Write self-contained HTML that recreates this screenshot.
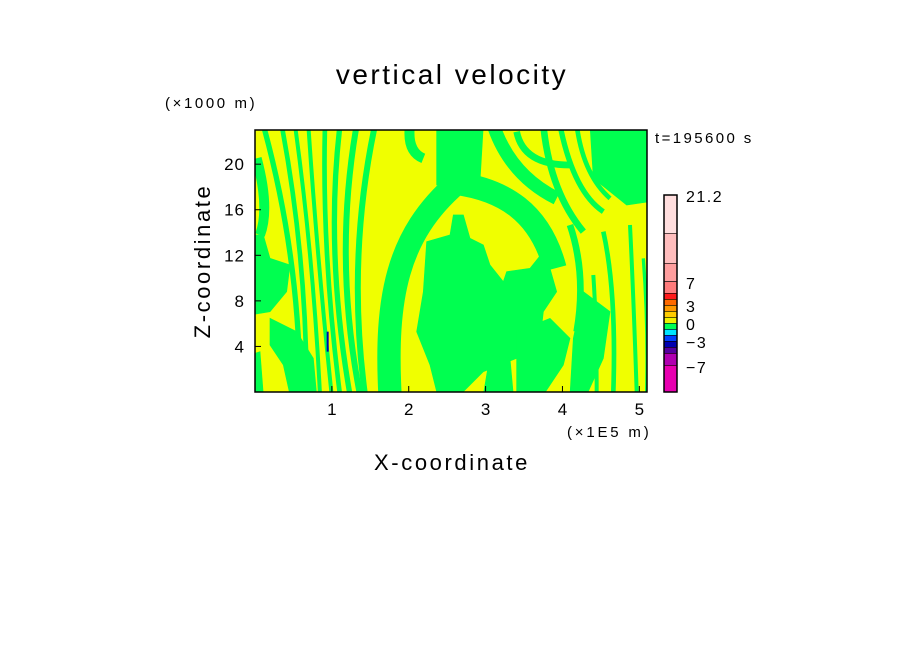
<!DOCTYPE html>
<html><head><meta charset="utf-8"><style>
body{margin:0;background:#fff;}
svg{display:block;font-family:"Liberation Sans",sans-serif;}
</style></head><body>
<svg id="chart" width="904" height="654" viewBox="0 0 904 654">
<text x="452" y="84" font-size="28" letter-spacing="2.5" text-anchor="middle">vertical velocity</text>
<text x="165" y="108" font-size="15" letter-spacing="2.6">(×1000 m)</text>
<text x="655" y="143" font-size="15" letter-spacing="2.4">t=195600 s</text>
<text x="567" y="437" font-size="15" letter-spacing="2.8">(×1E5 m)</text>
<text x="452" y="470" font-size="22" letter-spacing="2.6" text-anchor="middle">X-coordinate</text>
<text transform="translate(210,261) rotate(-90)" font-size="22" letter-spacing="2.6" text-anchor="middle">Z-coordinate</text>
<defs><clipPath id="pc"><rect x="255" y="130" width="392" height="262"/></clipPath></defs>
<g id="field" clip-path="url(#pc)">
<rect x="255" y="130" width="392" height="262" fill="#f0ff00"/>
<g transform="translate(250,125) scale(0.33333)" fill="#00ff50" stroke="#00ff50" id="greens"></g>
</g>
<rect x="255" y="130" width="392" height="262" fill="none" stroke="#000" stroke-width="1.5"/>
<g id="axes"></g>
<g id="cbar"></g>
</svg>
<script>
const xTicks=[1,2,3,4,5];
const yTicks=[4,8,12,16,20];
const cbColors=["#ffdede","#ffbdbd","#ff9e9e","#ff7b7b","#ff1a1a","#ff6a00","#ff9900","#ffcc00","#f0f000","#00ff55","#00e5ff","#0040ff","#0000b0","#5500a0","#b000b0","#e800b0"];
const cbLabels=["21.2","7","3","0","-3","-7"];
const cbLabelY=[196,283,306,324,342,367];
const NS="http://www.w3.org/2000/svg";
const X0=255,X1=647,Y0=130,Y1=392;
const xMax=5.1,zMax=23;
const sx=v=>X0+v/xMax*(X1-X0);
const sy=v=>Y1-v/zMax*(Y1-Y0);
const ax=document.getElementById('axes');
function mk(tag,attrs,parent){const e=document.createElementNS(NS,tag);for(const k in attrs)e.setAttribute(k,attrs[k]);parent.appendChild(e);return e;}
xTicks.forEach(v=>{
 const l=mk('line',{x1:sx(v),x2:sx(v),y1:Y1,y2:Y1-6,stroke:'#000'},ax);
 
 
 const t=mk('text',{x:sx(v),y:Y1+23,'font-size':17,'text-anchor':'middle'},ax);
 t.textContent=v;
 
 
});
yTicks.forEach(v=>{
 const l=mk('line',{x1:X0,x2:X0+6,y1:sy(v),y2:sy(v),stroke:'#000'},ax);
 
 
 const t=mk('text',{x:X0-10,y:sy(v)+6,'font-size':17,'text-anchor':'end','letter-spacing':1},ax);
 t.textContent=v;
 
 
});
const cb=document.getElementById('cbar');
const CB0=195,CB1=392,bounds=[0,115,205,260,295,313,331,349,367,385,403,421,439,457,475,511,591];
const cy=i=>CB0+bounds[i]/591*(CB1-CB0);
cbColors.forEach((c,i)=>{
 const r=mk('rect',{x:664,y:cy(i),width:13,height:cy(i+1)-cy(i),fill:c,stroke:'#000','stroke-width':0.6},cb);
 
 
});
mk('rect',{x:664,y:CB0,width:13,height:CB1-CB0,fill:'none',stroke:'#000','stroke-width':1.5},cb);
cbLabels.forEach((s,i)=>{
 const t=mk('text',{x:686,y:cbLabelY[i]+6,'font-size':16,'letter-spacing':1.5},cb);
 t.textContent=s.replace('-','−');
 
 
});
const g=document.getElementById('greens');
const polys=[
 "530,350 600,330 610,270 640,270 660,340 700,360 720,420 760,470 770,440 840,430 880,380 900,430 920,500 880,560 870,650 800,700 700,740 640,800 560,800 540,720 500,620 520,500",
 "560,0 700,0 690,170 620,175 560,180",
 "1020,0 1200,0 1200,230 1130,240 1080,200 1030,160",
 "0,330 40,330 60,400 120,420 110,500 60,560 0,570",
 "60,580 140,620 190,700 200,810 120,810 100,720 60,660",
 "800,620 900,580 960,640 940,720 880,810 800,810",
 "1000,500 1080,560 1060,700 1010,810 960,810 970,640",
 "0,690 30,680 40,810 0,810",
 "720,690 780,700 790,810 700,810"
];
polys.forEach(p=>{const e=mk('polygon',{points:p,'stroke-width':2},g);
 
 });
const paths=[
 ["M420 810 C405 520 440 330 620 175 C760 195 870 260 915 430",70],
 ["M20 100 Q60 250 30 330",30],
 ["M40 0 Q150 400 150 810",16],["M95 0 Q170 400 170 810",14],["M135 0 Q190 400 210 810",12],
 ["M175 0 Q200 380 245 810",12],["M225 0 Q215 380 270 810",14],["M270 0 Q225 380 300 810",16],
 ["M320 0 Q250 400 330 810",18],["M375 0 Q290 400 345 810",18],["M480 0 Q470 80 520 100",30],
 ["M730 0 Q780 150 920 220",40],["M800 20 Q820 120 960 120",20],["M880 0 Q900 200 1000 320",20],
 ["M930 0 Q970 200 1060 260",16],["M980 0 Q1000 150 1080 220",14],["M960 300 Q1010 450 980 620",20],
 ["M1060 320 Q1100 500 1090 800",14],["M1140 300 Q1150 500 1160 800",12],["M1180 400 Q1195 600 1190 800",10],
 ["M830 500 Q860 650 830 800",14],["M1030 450 Q1040 600 1040 800",12]
];
paths.forEach(([d,w])=>{const e=mk('path',{d:d,fill:'none','stroke-width':w},g);
 
 });
const b=mk('rect',{x:230,y:620,width:6,height:60,fill:'#0000b0',stroke:'none'},g);


</script>
</body></html>
